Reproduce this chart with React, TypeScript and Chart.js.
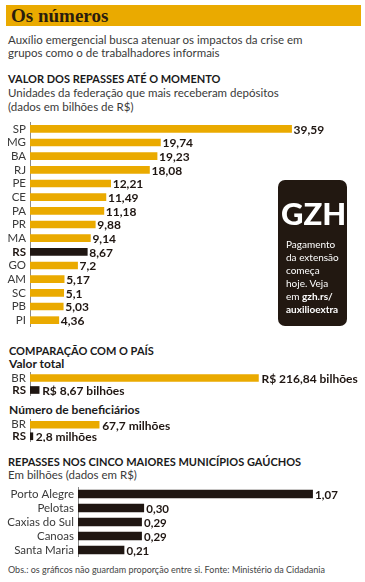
import React, { useEffect, useRef } from "react";
import { Chart, registerables } from "chart.js";

Chart.register(...registerables);

const FONT = "Lato, 'Open Sans', sans-serif";
const YELLOW = "#EAAA00";
const DARK = "#1F1612";
const AXIS = "#8c8c8c";
const TEXT = "#3a3a3a";

// ---- data ----
const stateLabels = ["SP", "MG", "BA", "RJ", "PE", "CE", "PA", "PR", "MA", "RS", "GO", "AM", "SC", "PB", "PI"];
const stateValues = [39.59, 19.74, 19.23, 18.08, 12.21, 11.49, 11.18, 9.88, 9.14, 8.67, 7.2, 5.17, 5.1, 5.03, 4.36];

const compLabels = ["BR", "RS"];
const totalValues = [216.84, 8.67];
const beneficiaryValues = [67.7, 2.8];

const cityLabels = ["Porto Alegre", "Pelotas", "Caxias do Sul", "Canoas", "Santa Maria"];
const cityValues = [1.07, 0.3, 0.29, 0.29, 0.21];

const comma = (s: string) => s.replace(".", ",");

type HBarProps = {
  labels: string[];
  values: number[];
  colors: string[];
  boldLabel?: string;
  left: number;
  top: number;
  width: number;
  height: number;
  axisWidth: number;
  max: number;
  barThickness: number;
  tickSize: number;
  valueSize: number;
  format: (v: number) => string;
  gap: number;
};

function HBar(p: HBarProps) {
  const ref = useRef<HTMLCanvasElement | null>(null);
  useEffect(() => {
    const canvas = ref.current!;
    const valuePlugin = {
      id: "valueLabels",
      afterDatasetsDraw(chart: any) {
        const ctx = chart.ctx;
        const meta = chart.getDatasetMeta(0);
        ctx.save();
        ctx.font = `bold ${p.valueSize}px ${FONT}`;
        ctx.fillStyle = DARK;
        ctx.textBaseline = "middle";
        ctx.textAlign = "left";
        meta.data.forEach((bar: any, i: number) => {
          ctx.fillText(p.format(p.values[i]), bar.x + p.gap, bar.y + 1);
        });
        ctx.restore();
      },
    };
    const chart = new Chart(canvas, {
      type: "bar",
      data: {
        labels: p.labels,
        datasets: [
          {
            data: p.values,
            backgroundColor: p.colors,
            barThickness: p.barThickness,
            borderWidth: 0,
          },
        ],
      },
      options: {
        indexAxis: "y",
        animation: false,
        responsive: false,
        devicePixelRatio: 1,
        layout: { padding: 0 },
        plugins: { legend: { display: false }, tooltip: { enabled: false } },
        scales: {
          x: { display: false, min: 0, max: p.max },
          y: {
            afterFit: (s: any) => {
              s.width = p.axisWidth;
              s.paddingTop = 0;
              s.paddingBottom = 0;
            },
            grid: { display: false, drawTicks: false },
            border: { display: true, color: AXIS, width: 1 },
            ticks: {
              padding: 4,
              autoSkip: false,
              font: (ctx: any) => ({
                family: FONT,
                size: p.tickSize,
                weight: p.labels[ctx.index] === p.boldLabel ? "bold" : "normal",
              }),
              color: (ctx: any) => (p.labels[ctx.index] === p.boldLabel ? DARK : TEXT),
            },
          },
        },
      } as any,
      plugins: [valuePlugin],
    });
    return () => chart.destroy();
  }, []);
  return (
    <canvas
      ref={ref}
      width={p.width}
      height={p.height}
      style={{ position: "absolute", left: p.left, top: p.top, width: p.width, height: p.height }}
    />
  );
}

const BASE = 0.887;

function T(props: {
  x: number;
  y: number;
  size: number;
  bold?: boolean;
  color?: string;
  family?: string;
  children: React.ReactNode;
}) {
  const { x, y, size, bold, color, family, children } = props;
  return (
    <div
      style={{
        position: "absolute",
        left: x,
        top: y - size * BASE,
        fontSize: size,
        lineHeight: `${size}px`,
        fontFamily: family || FONT,
        fontWeight: bold ? 700 : 400,
        color: color || TEXT,
        whiteSpace: "nowrap",
      }}
    >
      {children}
    </div>
  );
}

export default function App() {
  return (
    <div
      style={{
        position: "absolute",
        left: 0,
        top: 0,
        width: 365,
        height: 582,
        background: "#ffffff",
        overflow: "hidden",
      }}
    >
      <div style={{ position: "absolute", left: 6, top: 5, width: 355, height: 21, background: YELLOW }} />
      <div
        style={{
          position: "absolute",
          left: 11,
          top: 23 - 19 * 0.891,
          fontFamily: "'Liberation Serif', serif",
          fontWeight: 700,
          fontSize: 19,
          lineHeight: "19px",
          color: "#2a1d0e",
          whiteSpace: "nowrap",
        }}
      >
        Os números
      </div>

      <T x={8} y={44} size={11.5}>Auxílio emergencial busca atenuar os impactos da crise em</T>
      <T x={8} y={57.5} size={11.5}>grupos como o de trabalhadores informais</T>

      <T x={8} y={83} size={11} bold color="#1a1a1a">VALOR DOS REPASSES ATÉ O MOMENTO</T>
      <T x={8} y={97} size={11.5}>Unidades da federação que mais receberam depósitos</T>
      <T x={8} y={111} size={11.5}>(dados em bilhões de R$)</T>

      <HBar
        labels={stateLabels}
        values={stateValues}
        colors={stateLabels.map((l) => (l === "RS" ? DARK : YELLOW))}
        boldLabel="RS"
        left={0}
        top={122}
        width={365}
        height={205}
        axisWidth={30}
        max={50.7}
        barThickness={7}
        tickSize={11.5}
        valueSize={12}
        format={(v) => comma(String(v))}
        gap={2}
      />

      <div
        style={{
          position: "absolute",
          left: 278,
          top: 180,
          width: 69,
          height: 146,
          background: "#221811",
          borderRadius: 7,
          overflow: "hidden",
        }}
      >
        <div
          style={{
            position: "absolute",
            left: 3,
            top: 45 - 31 * BASE,
            fontFamily: FONT,
            fontWeight: 900,
            fontSize: 31,
            lineHeight: "31px",
            color: "#ffffff",
            letterSpacing: 0,
            whiteSpace: "nowrap",
          }}
        >
          GZH
        </div>
      </div>
      <T x={286} y={248} size={10} color="#ffffff">Pagamento</T>
      <T x={286} y={261} size={10} color="#ffffff">da extensão</T>
      <T x={286} y={274} size={10} color="#ffffff">começa</T>
      <T x={286} y={287} size={10} color="#ffffff">hoje. Veja</T>
      <T x={286} y={300} size={10} color="#ffffff">
        em <b>gzh.rs/</b>
      </T>
      <T x={286} y={313} size={10} bold color="#ffffff">auxilioextra</T>

      <T x={9} y={355} size={11} bold color="#1a1a1a">COMPARAÇÃO COM O PAÍS</T>
      <T x={9} y={368.5} size={12} bold color="#1a1a1a">Valor total</T>

      <HBar
        labels={compLabels}
        values={totalValues}
        colors={[YELLOW, DARK]}
        boldLabel="RS"
        left={0}
        top={372}
        width={365}
        height={24}
        axisWidth={30}
        max={318}
        barThickness={7}
        tickSize={11.5}
        valueSize={12}
        format={(v) => "R$ " + comma(v.toFixed(2)) + " bilhões"}
        gap={3}
      />

      <T x={9} y={415} size={12} bold color="#1a1a1a">Número de beneficiários</T>

      <HBar
        labels={compLabels}
        values={beneficiaryValues}
        colors={[YELLOW, DARK]}
        boldLabel="RS"
        left={0}
        top={419}
        width={365}
        height={23}
        axisWidth={30}
        max={328}
        barThickness={7}
        tickSize={11.5}
        valueSize={12}
        format={(v) => comma(v.toFixed(1)) + " milhões"}
        gap={3}
      />

      <T x={8} y={466} size={11} bold color="#1a1a1a">REPASSES NOS CINCO MAIORES MUNICÍPIOS GAÚCHOS</T>
      <T x={8} y={479.5} size={11.5}>Em bilhões (dados em R$)</T>

      <HBar
        labels={cityLabels}
        values={cityValues}
        colors={cityLabels.map(() => DARK)}
        left={0}
        top={487}
        width={365}
        height={70}
        axisWidth={78}
        max={1.309}
        barThickness={8}
        tickSize={11.5}
        valueSize={11.5}
        format={(v) => comma(v.toFixed(2))}
        gap={2.5}
      />

      <T x={8} y={573} size={9} color="#444444">
        Obs.: os gráficos não guardam proporção entre si. Fonte: Ministério da Cidadania
      </T>
    </div>
  );
}
